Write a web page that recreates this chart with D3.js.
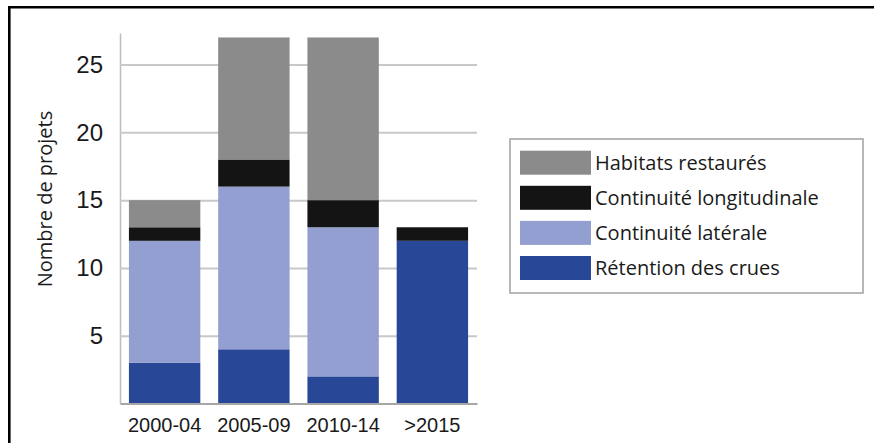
<!DOCTYPE html>
<html>
<head>
<meta charset="utf-8">
<script src="https://cdn.jsdelivr.net/npm/d3@7"></script>
<style>
  body { margin: 0; background: #fff; }
  svg { display: block; font-family: "Open Sans", sans-serif; }
  .axis text { fill: #1a1a1a; }
</style>
</head>
<body>
<svg id="chart" width="874" height="443"></svg>
<script>
// data
var categories = ["2000-04", "2005-09", "2010-14", ">2015"];
var retention = [3, 4, 2, 12];
var laterale = [9, 12, 11, 0];
var longitudinale = [1, 2, 2, 1];
var habitats = [2, 9, 12, 0];
var yTicks = [5, 10, 15, 20, 25];

var seriesNames = ["Rétention des crues", "Continuité latérale", "Continuité longitudinale", "Habitats restaurés"];
var seriesValues = [retention, laterale, longitudinale, habitats];
var colors = ["#284797", "#939fd0", "#141414", "#8a8b8a"];

var rows = categories.map(function(c, i) {
  var r = {cat: c};
  seriesNames.forEach(function(s, j) { r[s] = seriesValues[j][i]; });
  return r;
});

var svg = d3.select("#chart");

// outer frame (only top and left edges are visible)
svg.append("path")
  .attr("d", "M9.3,443V7.2H874")
  .attr("fill", "none")
  .attr("stroke", "#000")
  .attr("stroke-width", 2.6);

var x = d3.scaleBand()
  .domain(categories)
  .range([120, 477])
  .paddingInner(0.2)
  .paddingOuter(0.1);

var y = d3.scaleLinear()
  .domain([0, 27.33])
  .range([403.5, 33]);

// y axis with gridlines
var yAxis = svg.append("g")
  .attr("class", "y axis")
  .attr("transform", "translate(120,0)")
  .call(d3.axisLeft(y).tickValues(yTicks).tickSize(-357).tickSizeOuter(0).tickPadding(17));

yAxis.select(".domain").attr("stroke", "#bdbdbd").attr("stroke-width", 1.5);
yAxis.selectAll(".tick line").attr("stroke", "#c8c8c8").attr("stroke-width", 2);
yAxis.selectAll(".tick text").style("font-size", "24px");

var stack = d3.stack().keys(seriesNames);
var layers = stack(rows);

svg.append("g").selectAll("g")
  .data(layers)
  .enter().append("g")
  .attr("fill", function(d, i) { return colors[i]; })
  .selectAll("rect")
  .data(function(d) { return d; })
  .enter().append("rect")
  .attr("x", function(d) { return x(d.data.cat); })
  .attr("y", function(d) { return y(d[1]); })
  .attr("width", x.bandwidth())
  .attr("height", function(d) { return y(d[0]) - y(d[1]); });

// x axis
var xAxis = svg.append("g")
  .attr("class", "x axis")
  .attr("transform", "translate(0,403.5)")
  .call(d3.axisBottom(x).tickSize(0).tickPadding(14));

xAxis.select(".domain").attr("stroke", "#a6a6a6").attr("stroke-width", 2);
xAxis.selectAll(".tick text").style("font-size", "20px");

// axis title
svg.append("text")
  .attr("transform", "translate(52,199) rotate(-90)")
  .attr("text-anchor", "middle")
  .style("font-size", "20px")
  .attr("fill", "#1a1a1a")
  .text("Nombre de projets");

// legend
var legend = svg.append("g").attr("class", "legend");

legend.append("rect")
  .attr("x", 510)
  .attr("y", 139)
  .attr("width", 353)
  .attr("height", 154)
  .attr("fill", "#fff")
  .attr("stroke", "#a0a0a0")
  .attr("stroke-width", 1.5);

var legendOrder = [3, 2, 1, 0];

var item = legend.selectAll(".item")
  .data(legendOrder)
  .enter().append("g")
  .attr("class", "item")
  .attr("transform", function(d, i) { return "translate(520," + (150.7 + i * 35.1) + ")"; });

item.append("rect")
  .attr("width", 71)
  .attr("height", 24)
  .attr("fill", function(d) { return colors[d]; });

item.append("text")
  .attr("x", 75)
  .attr("y", 12)
  .attr("dy", "0.35em")
  .style("font-size", "20px")
  .attr("fill", "#1a1a1a")
  .text(function(d) { return seriesNames[d]; });
</script>
</body>
</html>
